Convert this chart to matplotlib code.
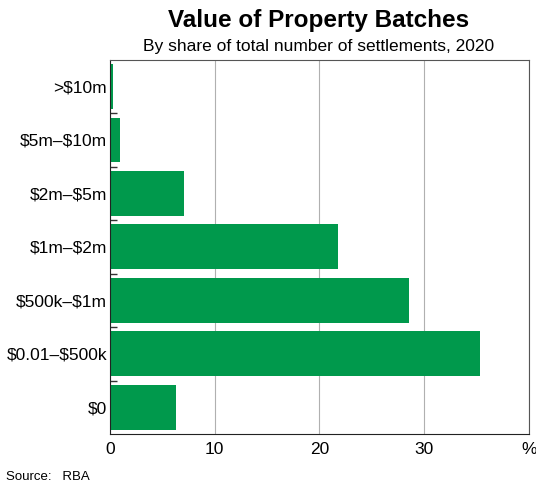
import matplotlib.pyplot as plt
import numpy as np

plt.rcParams['font.family'] = ['Liberation Sans', 'DejaVu Sans']
plt.rcParams['text.parse_math'] = False

# categories bottom to top
labels = ['$0', '$0.01–$500k', '$500k–$1m', '$1m–$2m', '$2m–$5m', '$5m–$10m', '>$10m']
shares = [6.3, 35.3, 28.5, 21.8, 7.1, 0.95, 0.3]

fig = plt.figure(figsize=(5.36, 4.86), dpi=100)
ax = fig.add_axes([0.205, 0.107, 0.782, 0.770])

y_pos = np.arange(len(labels))
ax.barh(y_pos, shares, height=0.84, color='#00994c', zorder=2)

ax.set_xlim(0, 40)
ax.set_ylim(-0.5, len(labels) - 0.5)
ax.set_xticks([0, 10, 20, 30, 40])
ax.set_xticklabels(['0', '10', '20', '30', '%'])
ax.xaxis.grid(True, color='#b0b0b0', linewidth=0.8, zorder=0)
ax.tick_params(axis='x', length=0, labelsize=12.5, pad=6)

ax.set_yticks(y_pos)
ax.set_yticklabels(labels)
ax.tick_params(axis='y', which='major', length=0, labelsize=12.5, pad=2)
ax.set_yticks(y_pos[:-1] + 0.5, minor=True)
ax.tick_params(axis='y', which='minor', direction='in', length=5, width=1, color='#333333')

for s in ['left', 'bottom']:
    ax.spines[s].set_color('#222222')
for s in ['top', 'right']:
    ax.spines[s].set_color('#555555')

fig.text(0.594, 0.957, 'Value of Property Batches', ha='center', va='center',
         fontsize=17.5, fontweight='bold')
fig.text(0.594, 0.905, 'By share of total number of settlements, 2020', ha='center',
         va='center', fontsize=12.5)
fig.text(0.012, 0.018, 'Source:   RBA', ha='left', va='center', fontsize=9.5)

fig.savefig('out.png', dpi=100)
